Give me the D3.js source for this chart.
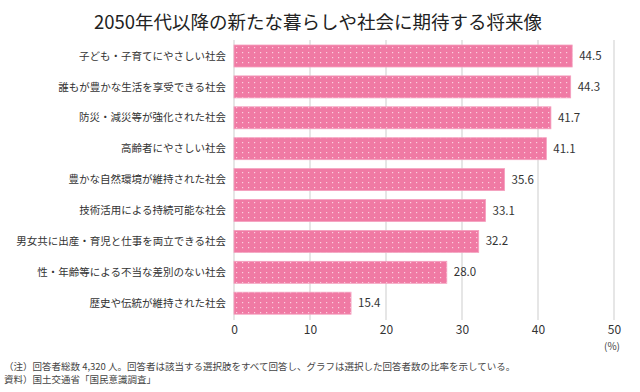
<!DOCTYPE html>
<html><head><meta charset="utf-8">
<script src="https://cdn.jsdelivr.net/npm/d3@7"></script>
<style>body{margin:0;background:#fff;}svg{display:block;font-family:"Noto Sans CJK JP","Noto Sans",sans-serif;}</style>
</head><body>
<script>
const title = "2050年代以降の新たな暮らしや社会に期待する将来像";
const categories = ["子ども・子育てにやさしい社会","誰もが豊かな生活を享受できる社会","防災・減災等が強化された社会","高齢者にやさしい社会","豊かな自然環境が維持された社会","技術活用による持続可能な社会","男女共に出産・育児と仕事を両立できる社会","性・年齢等による不当な差別のない社会","歴史や伝統が維持された社会"];
const values = [44.5,44.3,41.7,41.1,35.6,33.1,32.2,28.0,15.4];
const tickValues = [0,10,20,30,40,50];
const unitLabel = "(%)";
const notes = ["（注）回答者総数 4,320 人。回答者は該当する選択肢をすべて回答し、グラフは選択した回答者数の比率を示している。","資料）国土交通省「国民意識調査」"];

const W=640,H=392;
const svg=d3.select("body").append("svg").attr("width",W).attr("height",H);
const defs=svg.append("defs");
const pat=defs.append("pattern").attr("id","dots").attr("patternUnits","userSpaceOnUse").attr("width",6).attr("height",5);
pat.append("rect").attr("width",6).attr("height",5).attr("fill","#f07aa4");
pat.append("rect").attr("x",2).attr("y",2).attr("width",1.2).attr("height",1.2).attr("fill","#fbd0df");

const x=d3.scaleLinear().domain([0,50]).range([234,614]);
const y=d3.scaleBand().domain(categories).range([45,314.2]).paddingInner(0.288).paddingOuter(0);

svg.append("text").attr("x",318).attr("y",29).attr("text-anchor","middle").attr("font-size",18.5).attr("fill","#222").text(title);

// grid
svg.append("g").selectAll("line").data(tickValues).join("line")
  .attr("x1",d=>x(d)).attr("x2",d=>x(d)).attr("y1",40).attr("y2",320)
  .attr("stroke","#dedede").attr("stroke-width",1.5);

// axis
const ax=svg.append("g").attr("transform","translate(0,320)").call(d3.axisBottom(x).tickValues(tickValues).tickSize(0).tickPadding(5));
ax.select(".domain").remove();
ax.selectAll("text").attr("font-size",12).attr("fill","#333").attr("font-family","\"Noto Sans CJK JP\",sans-serif");

svg.append("text").attr("x",612).attr("y",350).attr("text-anchor","middle").attr("font-size",10).attr("fill","#444").text(unitLabel);

// bars
svg.append("g").selectAll("rect").data(values).join("rect")
  .attr("x",x(0)).attr("y",(d,i)=>y(categories[i]))
  .attr("width",d=>x(d)-x(0)).attr("height",y.bandwidth())
  .attr("fill","url(#dots)").attr("stroke","#f4a0bf").attr("stroke-width",0.8);

// category labels
svg.append("g").selectAll("text").data(categories).join("text")
  .attr("x",226).attr("y",d=>y(d)+y.bandwidth()/2).attr("dy","0.35em")
  .attr("text-anchor","end").attr("font-size",10.5).attr("fill","#333").text(d=>d);

// value labels
svg.append("g").selectAll("text").data(values).join("text")
  .attr("x",d=>x(d)+7).attr("y",(d,i)=>y(categories[i])+y.bandwidth()/2).attr("dy","0.35em")
  .attr("font-size",11.5).attr("fill","#333").text(d=>d.toFixed(1));

svg.append("g").selectAll("text").data(notes).join("text")
  .attr("x",4).attr("y",(d,i)=>370+i*13).attr("font-size",9.5).attr("fill","#444").text(d=>d);
</script>
</body></html>
